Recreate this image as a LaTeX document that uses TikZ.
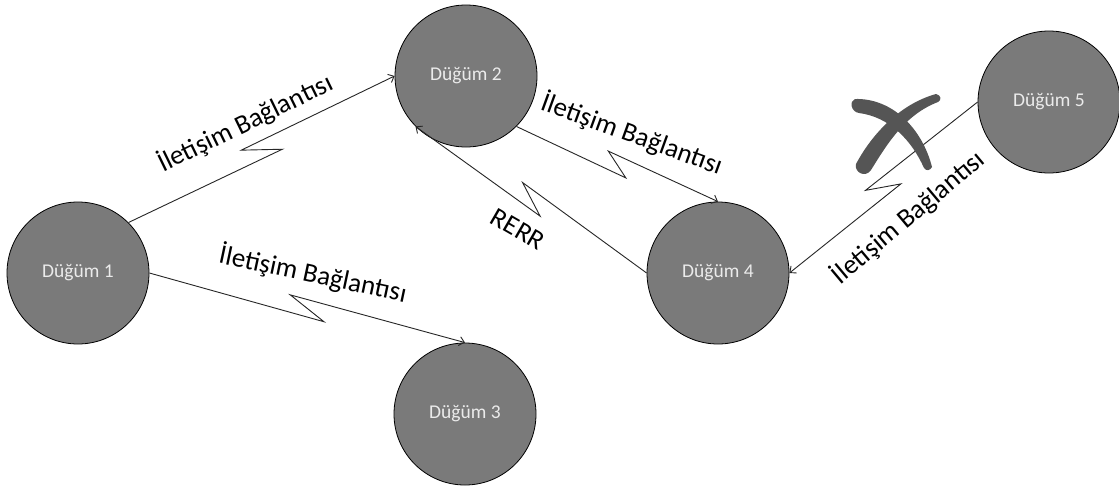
\documentclass[tikz,border=0pt]{standalone}
\usepackage{fontspec}
\setmainfont{Carlito}
\usetikzlibrary{calc,arrows.meta}
\definecolor{nodefill}{HTML}{7A7A7A}
\definecolor{nodetext}{HTML}{EBEBEB}
\definecolor{edgecol}{HTML}{262626}
\definecolor{crosscol}{HTML}{555555}
\tikzset{
  station/.style={circle, draw=black, line width=0.8pt, fill=nodefill,
    minimum size=142pt, inner sep=0pt, text=nodetext,
    font=\fontsize{19.5}{22}\selectfont},
  link/.style={draw=edgecol, line width=0.9pt,
    -{Straight Barb[length=5pt,width=9pt]}},
  % connector with a lightning-bolt kink in the middle
  bolt/.style={to path={
    -- ($(\tikztostart)!0.56!(\tikztotarget)!10pt!-90:(\tikztotarget)$)
    -- ($(\tikztostart)!0.44!(\tikztotarget)!9pt!90:(\tikztotarget)$)
    -- (\tikztotarget) \tikztonodes}},
  linklabel/.style={font=\fontsize{27}{30}\selectfont, text=black, inner sep=0pt},
}
\begin{document}
\begin{tikzpicture}[x=1pt,y=-1pt]
\useasboundingbox[fill=white] (0,0) rectangle (1119,490);

% stations
\node[station] (n1) at (78,273)   {Düğüm 1};
\node[station] (n2) at (466,76)   {Düğüm 2};
\node[station] (n3) at (465,414)  {Düğüm 3};
\node[station] (n4) at (718,273)  {Düğüm 4};
\node[station] (n5) at (1049,102) {Düğüm 5};

% links
\draw[link] (n1.north east) to[bolt] (n2.west);
\draw[link] (n1.east)       to[bolt] (n3.north);
\draw[link] (n2.south east) to[bolt] (n4.north);
\draw[link] (n4.west)       to[bolt] (n2.south west);
\draw[link] (n5.west)       to[bolt] (n4.east);

% link labels
\node[linklabel, rotate=26]  (l12) at (245,123) {İletişim Bağlantısı};
\node[linklabel, rotate=-12] (l13) at (313,274) {İletişim Bağlantısı};
\node[linklabel, rotate=-20] (l24) at (632,134) {İletişim Bağlantısı};
\node[linklabel, rotate=-30] (rerr) at (518,229) {RERR};
\node[linklabel, rotate=40]  (l54) at (908,217) {İletişim Bağlantısı};

% broken-link cross
\fill[crosscol]
  (855,99) .. controls (892,98) and (922,128) .. (932,167)
  .. controls (930,171) and (926,171) .. (924,168)
  .. controls (912,141) and (890,117) .. (859,113)
  .. controls (851,112) and (849,101) .. (855,99) -- cycle;
\fill[crosscol]
  (936,94) .. controls (941,95) and (942,100) .. (938,102)
  .. controls (904,115) and (886,146) .. (871,170)
  .. controls (866,178) and (854,173) .. (856,164)
  .. controls (872,134) and (900,104) .. (936,94) -- cycle;
\end{tikzpicture}
\end{document}
